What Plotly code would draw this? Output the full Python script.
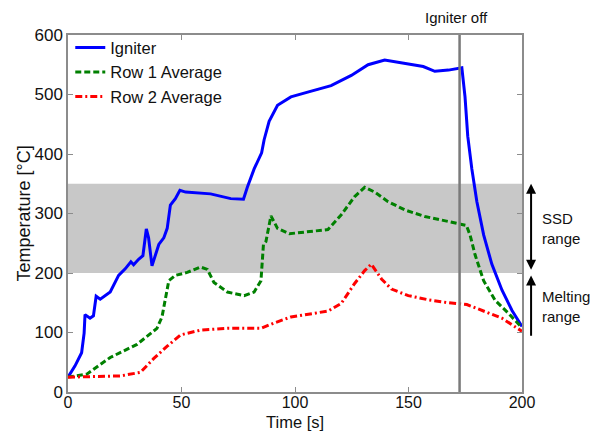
import plotly.graph_objects as go

# Igniter temperature trace
igniter_t = [0, 3.1, 6.0, 7.1, 7.5, 9.7, 11.2, 12.4, 14.2, 18.6, 22.3, 25.2, 27.7, 28.9,
             31.1, 33.0, 34.5, 35.5, 37.0, 38.5, 40.0, 42.2, 43.7, 45.1, 47.3, 49.3, 51.8,
             62.8, 71.7, 77.3, 79.0, 82.0, 85.3, 86.4, 88.6, 92.3, 98.2, 105.6, 115.9,
             124.8, 132.2, 139.5, 148.4, 156.5, 161.6, 167.6, 173.5, 174.9, 176.1, 177.9,
             180.1, 183.1, 186.7, 191.2, 195.6, 200]
igniter_T = [25, 44, 66, 99, 130, 124, 128, 161, 156, 168, 196, 207, 219, 214,
             223, 229, 274, 259, 212, 229, 248, 259, 275, 314, 325, 339, 336,
             333, 325, 324, 344, 375, 402, 424, 455, 482, 496, 504, 515,
             532, 550, 558, 552, 547, 539, 541, 545, 496, 430, 375,
             320, 264, 215, 171, 137, 110]

# Row 1 average
row1_t = [0, 8.3, 18.6, 30.4, 39.2, 41.4, 44.4, 47.3, 52.5, 58.4, 61.4, 64.3, 70.2, 77.6,
          82.0, 85.0, 86.1, 87.2, 89.4, 92.3, 97.5, 105.6, 114.5, 120.4, 126.2, 130.7,
          135.1, 141.0, 148.4, 157.2, 167.6, 174.2, 175.5, 177.1, 179.3, 183.1, 188.2,
          194.1, 200]
row1_T = [25, 30, 58, 80, 107, 126, 187, 196, 201, 210, 206, 184, 168, 162,
          168, 187, 248, 253, 296, 275, 266, 269, 273, 298, 328, 344,
          336, 320, 306, 295, 286, 281, 280, 264, 231, 187, 154,
          132, 108]

# Row 2 average
row2_t = [0, 11.2, 23.0, 31.9, 37.7, 43.7, 49.6, 58.4, 70.2, 85.0, 90.8, 98.2, 105.6,
          114.5, 120.4, 126.2, 130.7, 133.6, 138.1, 142.5, 149.9, 158.7, 167.6, 175.7,
          183.8, 191.2, 200]
row2_T = [25, 26, 27, 33, 56, 77, 96, 104, 107, 107, 116, 126, 131,
          136, 149, 182, 204, 215, 190, 173, 162, 155, 150, 147,
          135, 124, 102]

ssd_range = [200, 350]
melting_range = [92, 196]
igniter_off_t = 172.5

x_ticks = [0, 50, 100, 150, 200]
y_ticks = [0, 100, 200, 300, 400, 500, 600]

FONT = "Arial, Liberation Sans, Helvetica, sans-serif"
FRAME = "#8c8c8c"
TXT = "#111"

fig = go.Figure()

fig.add_trace(go.Scatter(x=igniter_t, y=igniter_T, mode="lines", name="Igniter",
                         line=dict(color="#0000ff", width=3)))
fig.add_trace(go.Scatter(x=row1_t, y=row1_T, mode="lines", name="Row 1 Average",
                         line=dict(color="#008000", width=3, dash="6px,3px")))
fig.add_trace(go.Scatter(x=row2_t, y=row2_T, mode="lines", name="Row 2 Average",
                         line=dict(color="#ff0000", width=3, dash="7px,3px,2px,3px")))

# Shaded SSD band
fig.add_shape(type="rect", xref="x", yref="y", x0=0, x1=200,
              y0=ssd_range[0], y1=ssd_range[1],
              fillcolor="#c8c8c8", line=dict(width=0), layer="below")

# Igniter switch-off marker
fig.add_shape(type="line", xref="x", yref="y", x0=igniter_off_t, x1=igniter_off_t,
              y0=0, y1=600, line=dict(color="#7a7a7a", width=2.5), layer="above")

annotations = [
    dict(text="Igniter off", xref="x", yref="paper", x=igniter_off_t - 1.5, y=1.048,
         showarrow=False, font=dict(size=15, color=TXT), xanchor="center", yanchor="middle"),
    # SSD range double arrow
    dict(x=1.02, y=ssd_range[1], xref="paper", yref="y", ax=0, ay=ssd_range[0] + 3,
         axref="pixel", ayref="y", showarrow=True, arrowhead=2, arrowside="end+start",
         arrowsize=1, arrowwidth=2, arrowcolor="#000", text=""),
    # Melting range arrow
    dict(x=1.02, y=melting_range[1], xref="paper", yref="y", ax=0, ay=melting_range[0],
         axref="pixel", ayref="y", showarrow=True, arrowhead=2, arrowside="end",
         arrowsize=1, arrowwidth=2, arrowcolor="#000", text=""),
    dict(text="SSD<br>range", xref="paper", yref="y", x=1.04, y=274, showarrow=False,
         xanchor="left", yanchor="middle", align="left", font=dict(size=15, color=TXT)),
    dict(text="Melting<br>range", xref="paper", yref="y", x=1.04, y=144, showarrow=False,
         xanchor="left", yanchor="middle", align="left", font=dict(size=15, color=TXT)),
    # Axis titles
    dict(text="Time [s]", xref="paper", yref="paper", x=0.5, y=-0.084, showarrow=False,
         xanchor="center", yanchor="middle", font=dict(size=16.5, color=TXT)),
    dict(text="Temperature [°C]", xref="paper", yref="paper", x=-0.099, y=0.5,
         showarrow=False, textangle=-90, xanchor="center", yanchor="middle",
         font=dict(size=18, color=TXT)),
]

axis_common = dict(showline=True, linecolor=FRAME, linewidth=1.5, mirror="ticks",
                   ticks="inside", ticklen=5, tickcolor=FRAME, showgrid=False,
                   zeroline=False, automargin=False)

fig.update_layout(
    width=590, height=431,
    margin=dict(l=68, r=68, t=35, b=39),
    paper_bgcolor="white", plot_bgcolor="white",
    font=dict(family=FONT, color=TXT),
    showlegend=True,
    legend=dict(x=0.005, y=1.013, xanchor="left", yanchor="top",
                bgcolor="rgba(0,0,0,0)", borderwidth=0,
                font=dict(size=16.5, color=TXT, family=FONT),
                tracegroupgap=0, itemwidth=30),
    annotations=annotations,
    xaxis=dict(range=[0, 200], tickvals=x_ticks, ticklabelstandoff=-5,
               tickfont=dict(size=16, color=TXT, family=FONT), **axis_common),
    yaxis=dict(range=[0, 600], tickvals=y_ticks, ticklabelstandoff=0,
               tickfont=dict(size=17, color=TXT, family=FONT), **axis_common),
)

fig.write_html("out.html")
